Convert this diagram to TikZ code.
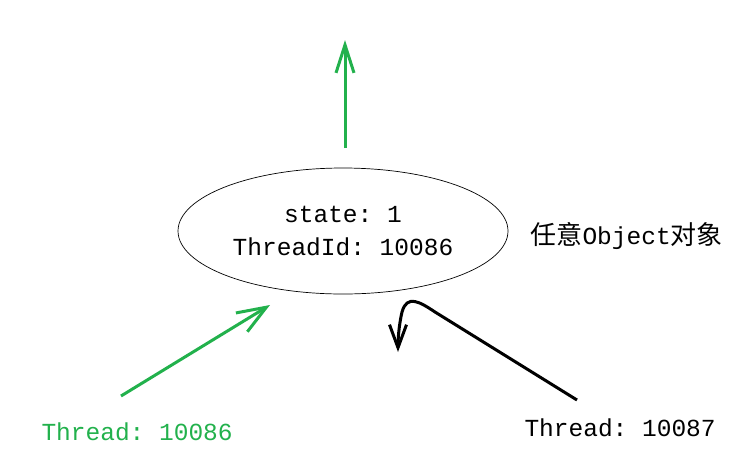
\documentclass[tikz,border=0pt]{standalone}
\usepackage{fontspec}
\setmonofont{Liberation Mono}
\newfontfamily\cjk{Noto Sans CJK SC}
\usetikzlibrary{arrows.meta,shapes.geometric}
\definecolor{paintgreen}{RGB}{34,177,76}

\begin{document}
\begin{tikzpicture}[x=1pt,y=-1pt,
    font=\ttfamily\fontsize{24.5}{33}\selectfont,
    objbox/.style={draw, ellipse, line width=0.7pt, minimum width=330pt, minimum height=126pt, inner sep=0pt, align=center},
    stroke/.style={line width=3pt}]
	\useasboundingbox (0,0) rectangle (746,472);
	\node[objbox] (obj) at (343,231) {state: 1\\ThreadId: 10086};
	\node[anchor=west] (objname) at (527,236) {{\cjk\fontsize{26}{30}\selectfont 任意}Object{\cjk\fontsize{26}{30}\selectfont 对象}};
	\node[anchor=west, text=paintgreen] (owner) at (38,432) {Thread: 10086};
	\node[anchor=west] (waiter) at (521,428) {Thread: 10087};
	\coordinate (upfrom) at (345,148);
	\coordinate (upto) at (345,40);
	\coordinate (infrom) at (121,396);
	\coordinate (into) at (270,305);
	\coordinate (waitfrom) at (577,400);
	\coordinate (waitto) at (398,352);
	\draw[stroke, paintgreen, -{Straight Barb[length=28pt, width=18pt]}] (upfrom) -- (upto);
	\draw[stroke, paintgreen, -{Straight Barb[length=29pt, width=22pt]}] (infrom) -- (into);
	\draw[stroke, black, -{Straight Barb[length=23pt, width=17pt]}] (waitfrom) -- (435,312)
	    .. controls (420,302) and (407,294) .. (402,312) .. controls (399,325) and (398,338) .. (waitto);
\end{tikzpicture}
\end{document}
